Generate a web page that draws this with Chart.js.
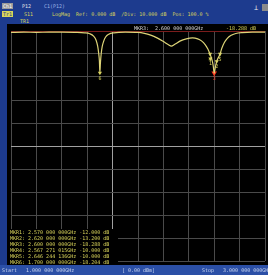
<!DOCTYPE html>
<html>
<head>
<meta charset="utf-8">
<script src="https://cdn.jsdelivr.net/npm/chart.js@4/dist/chart.umd.min.js"></script>
<style>
html, body { margin: 0; padding: 0; background: #000; width: 268px; height: 275px; overflow: hidden; }
#wrap { position: relative; width: 268px; height: 275px; font-family: "DejaVu Sans Mono", monospace; font-size: 5px; line-height: 6px; }
.t { position: absolute; white-space: pre; }
#head { position: absolute; left: 0; top: 0; width: 268px; height: 24px; background: #1d3b8e; }
#side { position: absolute; left: 0; top: 24px; width: 7px; height: 241px; background: #1d3b8e; }
#foot { position: absolute; left: 0; top: 265px; width: 268px; height: 10px; background: #2b4fa6; color: #c8d4f0; }
#box { position: absolute; left: 7px; top: 24px; width: 262px; height: 241px; }
#mtab { position: absolute; left: 10px; top: 229px; width: 108px; height: 35px; background: #000; color: #d9d45a; white-space: pre; }
</style>
</head>
<body>
<div id="wrap">
  <div id="head">
    <span class="t" style="left:2px;top:3px;background:#9a9a9a;color:#fff;padding:0 1px">Ch1</span>
    <span class="t" style="left:22px;top:3px;color:#e8e8e8">P12</span>
    <span class="t" style="left:44px;top:3px;color:#9fb6e6">C1(P12)</span>
    <span class="t" style="left:2px;top:11px;background:#d9d45a;color:#1d3b8e;padding:0 1px">Tr1</span>
    <span class="t" style="left:24px;top:11px;color:#d9d45a">S11</span>
    <span class="t" id="fmt" style="left:52px;top:11px;color:#d9d45a"></span>
    <span class="t" style="left:20px;top:18px;color:#d9d45a">TR1</span>
    <span class="t" style="left:254px;top:5px;color:#e8e8e8;font-size:7px">⊥</span>
    <span class="t" style="left:262px;top:4px;width:6px;height:7px;background:#8a8a8a"></span>
  </div>
  <div id="side"></div>
  <div id="box"><canvas id="chartS11" width="262" height="241"></canvas></div>
  <span class="t" id="readF" style="left:134px;top:25px;color:#d8d8d8"></span>
  <span class="t" id="readV" style="left:226px;top:25px;color:#d9d45a"></span>
  <div id="mtab"></div>
  <div id="foot">
    <span class="t" id="startLbl" style="left:2px;top:2px"></span>
    <span class="t" id="powLbl" style="left:122px;top:2px"></span>
    <span class="t" id="stopLbl" style="left:202px;top:2px"></span>
  </div>
</div>
<script>
// S11 trace, GHz / dB
const traceGHz = [1.000, 1.100, 1.200, 1.300, 1.400, 1.500, 1.580, 1.620, 1.650, 1.670,
    1.682, 1.690, 1.696, 1.700, 1.704, 1.710, 1.718, 1.730, 1.745, 1.770,
    1.810, 1.900, 2.000, 2.050, 2.100, 2.150, 2.200, 2.240, 2.262, 2.290,
    2.330, 2.380, 2.430, 2.470, 2.500, 2.530, 2.550, 2.567, 2.580, 2.592,
    2.600, 2.608, 2.620, 2.646, 2.660, 2.680, 2.700, 2.730, 2.770, 2.820,
    2.900, 3.000];
const traceDb = [-0.6, -0.5, -0.6, -0.5, -0.5, -0.6, -0.8, -1.2, -2.2, -4.0,
    -6.5, -9.5, -13.0, -18.204, -14.0, -10.0, -6.8, -4.4, -2.6, -1.4,
    -0.8, -0.5, -0.6, -1.0, -1.8, -3.0, -4.6, -6.0, -6.6, -5.8,
    -4.4, -3.4, -3.0, -3.4, -4.3, -6.0, -7.8, -10.0, -12.0, -15.0,
    -18.288, -16.0, -13.2, -10.0, -7.5, -5.0, -3.4, -2.0, -1.1, -0.7,
    -0.5, -0.5];

// markers
const markerHz = [2570000000, 2620000000, 2600000000, 2567271015, 2646244136, 1700000000];
const markerDb = [-12.000, -13.200, -18.288, -10.000, -10.000, -18.204];
const activeMarker = 2;

const startHz = 1000000000;
const stopHz = 3000000000;
const refDb = 0;
const divDb = 10;
const powerLabel = '[ 0.00 dBm]';

const fmtHz = (hz) => {
    const s = (hz / 1e9).toFixed(9);
    return s.slice(0, 5) + ' ' + s.slice(5, 8) + ' ' + s.slice(8) + 'GHz';
};
const fmtDb = (v) => (v < 0 ? '-' : ' ') + Math.abs(v).toFixed(3).padStart(6, '0') + ' dB';

document.getElementById('fmt').textContent =
    'LogMag  Ref: ' + refDb.toFixed(3) + ' dB  /Div: ' + divDb.toFixed(3) + ' dB  Pos: 100.0 %';
document.getElementById('readF').textContent = 'MKR' + (activeMarker + 1) + ':  ' + fmtHz(markerHz[activeMarker]);
document.getElementById('readV').textContent = fmtDb(markerDb[activeMarker]);
document.getElementById('mtab').textContent = markerHz
    .map((hz, i) => 'MKR' + (i + 1) + ': ' + fmtHz(hz) + ' ' + fmtDb(markerDb[i]))
    .join('\n');
document.getElementById('startLbl').textContent = 'Start   ' + fmtHz(startHz);
document.getElementById('powLbl').textContent = powerLabel;
document.getElementById('stopLbl').textContent = 'Stop   ' + fmtHz(stopHz);

const markerLabels = {
    id: 'markerLabels',
    afterDatasetsDraw(chart) {
        const ctx = chart.ctx;
        const meta = chart.getDatasetMeta(1);
        ctx.save();
        ctx.font = '5px "DejaVu Sans Mono"';
        ctx.textAlign = 'center';
        ctx.textBaseline = 'top';
        meta.data.forEach((pt, i) => {
            ctx.fillStyle = i === activeMarker ? '#ff4a30' : '#d9d45a';
            ctx.fillText(String(i + 1), pt.x, pt.y + 3);
        });
        ctx.restore();
    }
};

const chartS11 = new Chart(document.getElementById('chartS11'), {
    type: 'scatter',
    data: {
        datasets: [
            {
                data: traceGHz.map((f, i) => ({ x: f, y: traceDb[i] })),
                showLine: true,
                borderColor: '#ddd477',
                borderWidth: 1.2,
                pointRadius: 0,
                cubicInterpolationMode: 'monotone'
            },
            {
                data: markerHz.map((hz, i) => ({ x: hz / 1e9, y: markerDb[i] })),
                pointStyle: 'triangle',
                rotation: 180,
                pointRadius: markerHz.map((h, i) => i === activeMarker ? 3.2 : 2.4),
                borderWidth: 0,
                backgroundColor: markerHz.map((h, i) => i === activeMarker ? '#ff3a20' : '#d9d45a')
            }
        ]
    },
    options: {
        responsive: false,
        animation: false,
        layout: { padding: { left: 2, right: 0, top: 7, bottom: 1 } },
        plugins: { legend: { display: false }, tooltip: { enabled: false } },
        scales: {
            x: {
                type: 'linear',
                min: startHz / 1e9,
                max: stopHz / 1e9,
                ticks: { display: false, stepSize: 0.2 },
                border: { display: false },
                grid: {
                    drawTicks: false,
                    lineWidth: 1,
                    color: (c) => c.index === 4 ? '#a0a0a0' : '#4a4a4a'
                }
            },
            y: {
                min: refDb - 10 * divDb,
                max: refDb,
                ticks: { display: false, stepSize: divDb },
                border: { display: false },
                grid: {
                    drawTicks: false,
                    lineWidth: 1,
                    color: (c) => {
                        if (c.tick && c.tick.value === 0) return '#7a1c1c';
                        if (c.tick && c.tick.value === -50) return '#a0a0a0';
                        return '#4a4a4a';
                    }
                }
            }
        }
    },
    plugins: [markerLabels]
});
</script>
</body>
</html>
